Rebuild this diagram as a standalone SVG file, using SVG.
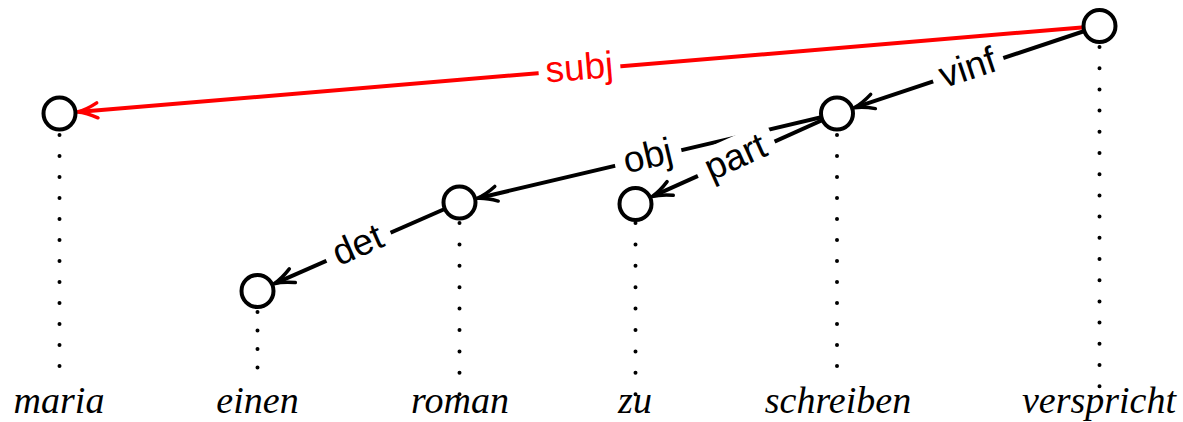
<svg xmlns="http://www.w3.org/2000/svg" width="1183" height="422" viewBox="0 0 1183 422">
<style>
.node{fill:#fff;stroke:#000;stroke-width:4}
.dots{stroke:#000;stroke-width:4;stroke-linecap:round;fill:none}
.word{font-family:"Liberation Serif",serif;font-style:italic;font-size:38px;text-anchor:middle;fill:#000}
.edge{stroke:#000;stroke-width:4;fill:none}
.edge.red{stroke:#ff0000}
.lbl{font-family:"Liberation Sans",Arial,sans-serif;font-size:37px;text-anchor:middle;fill:#000}
.lbl.red{fill:#ff0000}
.bg{fill:#fff}
</style>
<defs>
<marker id="ah" markerUnits="userSpaceOnUse" orient="auto" refX="0" refY="0" markerWidth="30" markerHeight="30" overflow="visible">
<path d="M-17,-7.5 Q-6,-1.5 3,0 Q-6,1.5 -17,7.5" fill="none" stroke="#000" stroke-width="3.5" stroke-linecap="round" stroke-linejoin="round"/>
</marker>
<marker id="ahr" markerUnits="userSpaceOnUse" orient="auto" refX="0" refY="0" markerWidth="30" markerHeight="30" overflow="visible">
<path d="M-17,-7.5 Q-6,-1.5 3,0 Q-6,1.5 -17,7.5" fill="none" stroke="#ff0000" stroke-width="3.5" stroke-linecap="round" stroke-linejoin="round"/>
</marker>
</defs>
<g id="projections">
<line class="dots" x1="59.5" y1="135" x2="59.5" y2="387" stroke-dasharray="0 21"/>
<line class="dots" x1="257.5" y1="312" x2="257.5" y2="386" stroke-dasharray="0 18.5"/>
<line class="dots" x1="459.5" y1="223" x2="459.5" y2="394.2" stroke-dasharray="0 21.4"/>
<line class="dots" x1="635.5" y1="223" x2="635.5" y2="394.2" stroke-dasharray="0 21.4"/>
<line class="dots" x1="837" y1="135" x2="837" y2="387" stroke-dasharray="0 21"/>
<line class="dots" x1="1099.5" y1="47" x2="1099.5" y2="386.2" stroke-dasharray="0 21.2"/>
</g>
<g id="words">
<text class="word" x="59" y="413">maria</text>
<text class="word" x="257.5" y="413">einen</text>
<text class="word" x="460" y="413">roman</text>
<text class="word" x="635" y="413">zu</text>
<text class="word" x="838" y="413">schreiben</text>
<text class="word" x="1099" y="413">verspricht</text>
</g>
<g id="connectors">
<g id="e-subj">
<line class="edge red" x1="1099.5" y1="26" x2="80.4" y2="111.74" marker-end="url(#ahr)"/>
<g transform="translate(579.5 69.75) rotate(-4.81)">
<rect class="bg" x="-41" y="-21" width="82" height="42"/>
<text class="lbl red" x="0" y="10">subj</text>
</g>
</g>
<g id="e-vinf">
<line class="edge" x1="1099.5" y1="26" x2="856.9" y2="106.86" marker-end="url(#ah)"/>
<g transform="translate(968.25 69.75) rotate(-18.43)">
<rect class="bg" x="-37" y="-21" width="74" height="42"/>
<text class="lbl" x="0" y="10">vinf</text>
</g>
</g>
<g id="e-obj">
<line class="edge" x1="837" y1="113.5" x2="479.94" y2="197.68" marker-end="url(#ah)"/>
<g transform="translate(648.25 158) rotate(-13.27)">
<rect class="bg" x="-34" y="-21" width="68" height="42"/>
<text class="lbl" x="0" y="10">obj</text>
</g>
</g>
<g id="e-part">
<line class="edge" x1="837" y1="113.5" x2="654.66" y2="195.4" marker-end="url(#ah)"/>
<g transform="translate(736.25 158.75) rotate(-24.19)">
<rect class="bg" x="-42" y="-22" width="84" height="44"/>
<text class="lbl" x="0" y="10">part</text>
</g>
</g>
<g id="e-det">
<line class="edge" x1="459.5" y1="202.5" x2="276.74" y2="282.57" marker-end="url(#ah)"/>
<g transform="translate(358.5 246.75) rotate(-23.66)">
<rect class="bg" x="-35" y="-21" width="70" height="42"/>
<text class="lbl" x="0" y="10">det</text>
</g>
</g>
</g>
<g id="n-maria"><circle class="node" cx="59.5" cy="113.5" r="16"/></g>
<g id="n-einen"><circle class="node" cx="257.5" cy="291" r="16"/></g>
<g id="n-roman"><circle class="node" cx="459.5" cy="202.5" r="16"/></g>
<g id="n-zu"><circle class="node" cx="635.5" cy="204" r="16"/></g>
<g id="n-schreiben"><circle class="node" cx="837" cy="113.5" r="16"/></g>
<g id="n-verspricht"><circle class="node" cx="1099.5" cy="26" r="16"/></g>
</svg>
